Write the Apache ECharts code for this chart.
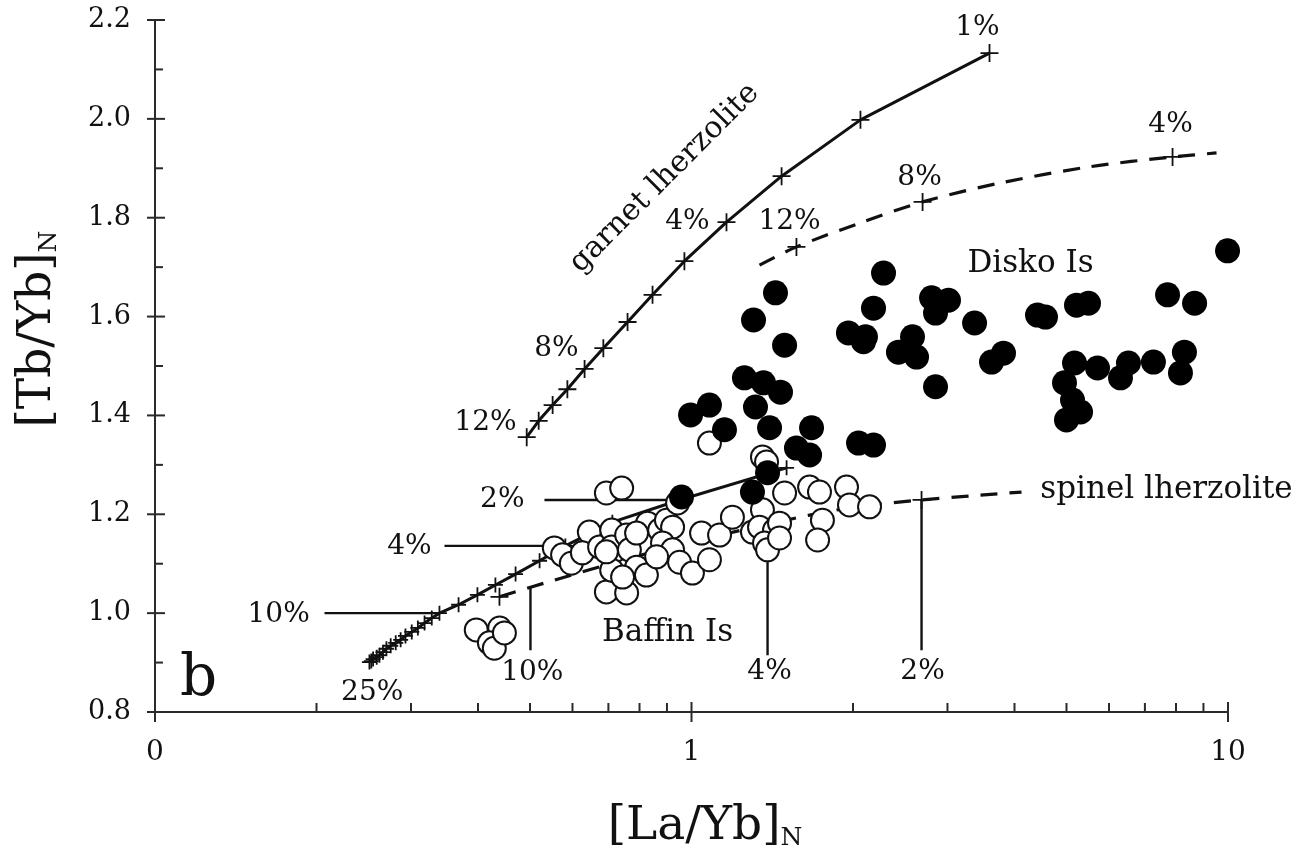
<!DOCTYPE html>
<html>
<head>
<meta charset="utf-8">
<script src="https://cdn.jsdelivr.net/npm/echarts/dist/echarts.min.js"></script>
<style>
  html, body { margin: 0; padding: 0; background: #fff; }
  #main { width: 1297px; height: 857px; }
</style>
</head>
<body>
<div id="main"></div>
<script>
// ---------------- data ----------------
const xMajorTicks = [0.1, 1, 10];
const xMinorTicks = [0.2, 0.3, 0.4, 0.5, 0.6, 0.7, 0.8, 0.9, 2, 3, 4, 5, 6, 7, 8, 9];
const yMajorTicks = [0.8, 1.0, 1.2, 1.4, 1.6, 1.8, 2.0, 2.2];
const yMinorTicks = [0.9, 1.1, 1.3, 1.5, 1.7, 1.9, 2.1];

// garnet lherzolite melting curve, 1% steps
const garnetCurve = [
  [3.593, 2.133], [2.065, 1.998], [1.472, 1.884], [1.162, 1.791], [0.970, 1.712],
  [0.846, 1.644], [0.760, 1.589], [0.685, 1.536], [0.632, 1.494], [0.587, 1.453],
  [0.551, 1.421], [0.519, 1.389], [0.493, 1.356]
];

// lower melting curve, 1% .. 25%
const lowerCurve = [
  [1.504, 1.294], [0.950, 1.229], [0.712, 1.184], [0.582, 1.136], [0.521, 1.106],
  [0.470, 1.079], [0.431, 1.057], [0.399, 1.037], [0.368, 1.017], [0.339, 1.000],
  [0.328, 0.990], [0.318, 0.980], [0.309, 0.970], [0.301, 0.962], [0.293, 0.954],
  [0.287, 0.946], [0.281, 0.940], [0.275, 0.934], [0.270, 0.928], [0.266, 0.921],
  [0.262, 0.915], [0.259, 0.911], [0.255, 0.907], [0.253, 0.903], [0.251, 0.901]
];

// upper dashed curve and its marked steps (12%, 8%, 4%)
const upperDash = [
  [1.339, 1.704], [1.569, 1.741], [2.057, 1.789], [2.696, 1.832],
  [3.751, 1.870], [5.520, 1.903], [7.882, 1.923], [9.52, 1.931]
];
const upperDashMarks = [[1.569, 1.741], [2.696, 1.832], [7.882, 1.923]];

// spinel lherzolite dashed curve and marked steps
const spinelDash = [
  [0.4386, 1.033], [0.503, 1.053], [0.835, 1.122], [1.386, 1.180],
  [1.970, 1.213], [2.684, 1.229], [4.122, 1.245]
];
const spinelDashMarks = [[0.4386, 1.033], [2.684, 1.229]];

// label leader lines
const leaders = [
  [[0.532, 1.229], [0.950, 1.229]],
  [[0.3464, 1.136], [0.582, 1.136]],
  [[0.207, 1.000], [0.339, 1.000]],
  [[0.501, 1.053], [0.501, 0.925]],
  [[1.386, 1.180], [1.386, 0.915]],
  [[2.684, 1.229], [2.684, 0.925]]
];

// Baffin Island samples
const baffin = [
  [1.080, 1.344], [1.356, 1.316], [1.380, 1.306], [0.694, 1.243], [0.741, 1.253],
  [0.555, 1.132], [0.575, 1.118], [0.597, 1.101], [0.645, 1.164], [0.626, 1.122],
  [0.674, 1.134], [0.710, 1.168], [0.710, 1.134], [0.728, 1.108], [0.757, 1.158],
  [0.757, 1.087], [0.766, 1.128], [0.790, 1.093], [0.824, 1.077], [0.694, 1.043],
  [0.757, 1.041], [0.828, 1.182], [0.872, 1.168], [0.898, 1.188], [0.922, 1.174],
  [0.883, 1.142], [0.922, 1.128], [0.950, 1.103], [1.004, 1.081], [1.080, 1.108],
  [1.044, 1.162], [1.128, 1.158], [1.192, 1.194], [1.299, 1.164], [1.356, 1.209],
  [1.339, 1.174], [1.428, 1.168], [1.368, 1.142], [1.386, 1.128], [1.459, 1.182],
  [1.491, 1.243], [1.660, 1.255], [1.732, 1.245], [1.945, 1.255], [1.970, 1.219],
  [2.147, 1.215], [1.754, 1.188], [1.718, 1.148], [0.397, 0.966], [0.439, 0.970],
  [0.420, 0.940], [0.429, 0.929], [0.448, 0.960], [0.710, 1.087], [0.744, 1.073],
  [0.861, 1.114], [0.790, 1.162], [0.694, 1.124], [1.459, 1.152], [0.942, 1.223]
];

// Disko Island samples
const disko = [
  [2.280, 1.688], [1.434, 1.648], [1.305, 1.593], [1.491, 1.542], [1.255, 1.476],
  [1.362, 1.466], [1.465, 1.447], [1.316, 1.417], [1.080, 1.421], [0.996, 1.401],
  [1.152, 1.371], [1.398, 1.375], [1.674, 1.375], [1.569, 1.334], [1.660, 1.320],
  [2.048, 1.344], [2.184, 1.340], [2.850, 1.458], [2.184, 1.617], [1.961, 1.567],
  [2.110, 1.559], [2.092, 1.549], [2.431, 1.528], [2.582, 1.559], [2.627, 1.518],
  [2.802, 1.638], [3.013, 1.633], [2.850, 1.607], [3.370, 1.587], [4.415, 1.603],
  [4.569, 1.599], [3.624, 1.508], [3.815, 1.526], [5.220, 1.623], [5.495, 1.627],
  [7.715, 1.644], [8.664, 1.627], [9.98, 1.733], [5.175, 1.506], [5.712, 1.496],
  [4.957, 1.466], [5.131, 1.431], [5.311, 1.407], [5.000, 1.391], [6.523, 1.506],
  [6.304, 1.476], [7.261, 1.508], [8.294, 1.528], [8.154, 1.486], [1.386, 1.284],
  [1.299, 1.245], [0.958, 1.235]
];

// annotation texts: [x, y, text]
const pctLabels = [
  [3.412, 2.184, '1%'], [0.983, 1.791, '4%'], [0.560, 1.534, '8%'], [0.413, 1.385, '12%'],
  [1.523, 1.791, '12%'], [2.661, 1.880, '8%'], [7.814, 1.988, '4%'],
  [0.444, 1.229, '2%'], [0.298, 1.134, '4%'], [0.170, 0.996, '10%'], [0.254, 0.838, '25%'],
  [0.505, 0.879, '10%'], [1.398, 0.881, '4%'], [2.696, 0.881, '2%']
];
const placeLabels = [
  [4.284, 1.706, 'Disko Is'], [0.902, 0.960, 'Baffin Is'], [7.68, 1.249, 'spinel lherzolite']
];
const curveName = [0.891, 1.880, 'garnet lherzolite'];
const panelLetter = [0.1206, 0.865, 'b'];

// ---------------- drawing ----------------
const FONT = "'DejaVu Serif', 'Liberation Serif', serif";
const INK = '#111111';
const AXIS = '#2a2a2a';
const CROSS = 'path://M5,0L5,10M0,5L10,5';

function tickSeries(items, isX) {
  return {
    type: 'custom', coordinateSystem: 'cartesian2d', clip: false, silent: true, z: 10,
    data: items,
    renderItem(params, api) {
      const v = api.value(isX ? 0 : 1);
      const major = api.value(2) === 1;
      const p = api.coord(isX ? [v, 0.8] : [0.1, v]);
      const shape = isX
        ? { x1: p[0], y1: p[1] - (major ? 10 : 9), x2: p[0], y2: p[1] + (major ? 10 : 0) }
        : { x1: p[0] - (major ? 8 : 0), y1: p[1], x2: p[0] + (major ? 10 : 8), y2: p[1] };
      return { type: 'line', shape, style: { stroke: AXIS, lineWidth: 2 } };
    }
  };
}

function textPoints(rows, fontSize, extra) {
  return {
    type: 'scatter', silent: true, z: 8, symbolSize: 1,
    itemStyle: { color: 'rgba(0,0,0,0)', opacity: 1 },
    data: rows.map(r => ({ value: [r[0], r[1]], name: r[2] })),
    label: Object.assign({
      show: true, position: 'inside', formatter: '{b}',
      fontFamily: FONT, fontSize: fontSize, color: INK
    }, extra || {})
  };
}

const crossStyle = { color: INK, borderColor: INK, borderWidth: 1.8, opacity: 1 };

const series = [
  tickSeries(xMajorTicks.map(v => [v, 0.8, 1]).concat(xMinorTicks.map(v => [v, 0.8, 0])), true),
  tickSeries(yMajorTicks.map(v => [0.1, v, 1]).concat(yMinorTicks.map(v => [0.1, v, 0])), false),
  {
    type: 'line', data: garnetCurve, z: 2, silent: true,
    lineStyle: { color: INK, width: 3 },
    symbol: CROSS, symbolSize: 18, showAllSymbol: true, itemStyle: crossStyle
  },
  {
    type: 'line', data: lowerCurve, z: 2, silent: true,
    lineStyle: { color: INK, width: 3 },
    symbol: CROSS, symbolSize: 15, showAllSymbol: true, itemStyle: crossStyle
  },
  {
    type: 'line', data: upperDash, z: 2, silent: true, smooth: 0.3,
    lineStyle: { color: INK, width: 3.2, type: [17, 12] }, symbol: 'none'
  },
  {
    type: 'scatter', data: upperDashMarks, z: 2, silent: true,
    symbol: CROSS, symbolSize: 18, itemStyle: crossStyle
  },
  {
    type: 'line', data: spinelDash, z: 2, silent: true, smooth: 0.3,
    lineStyle: { color: INK, width: 3.2, type: [17, 12] }, symbol: 'none'
  },
  {
    type: 'scatter', data: spinelDashMarks, z: 2, silent: true,
    symbol: CROSS, symbolSize: 18, itemStyle: crossStyle
  }
];

leaders.forEach(seg => series.push({
  type: 'line', data: seg, z: 2, silent: true, symbol: 'none',
  lineStyle: { color: INK, width: 2.4 }
}));

series.push({
  type: 'scatter', name: 'Baffin Is', data: baffin, z: 3, silent: true,
  symbol: 'circle', symbolSize: 23,
  itemStyle: { color: '#ffffff', borderColor: INK, borderWidth: 2, opacity: 1 }
});
series.push({
  type: 'scatter', name: 'Disko Is', data: disko, z: 4, silent: true,
  symbol: 'circle', symbolSize: 25,
  itemStyle: { color: '#000000', opacity: 1 }
});

series.push(textPoints(pctLabels, 28));
series.push(textPoints(placeLabels, 31));
series.push(textPoints([curveName], 30, { rotate: 45 }));
series.push(textPoints([panelLetter], 58));

const chart = echarts.init(document.getElementById('main'), null, { renderer: 'canvas' });
chart.setOption({
  animation: false,
  backgroundColor: '#ffffff',
  grid: { left: 155, right: 69, top: 20, bottom: 145, containLabel: false },
  xAxis: {
    type: 'log', logBase: 10, min: 0.1, max: 10,
    axisLine: { lineStyle: { color: AXIS, width: 2 } },
    axisTick: { show: false },
    splitLine: { show: false },
    axisLabel: {
      margin: 27, fontFamily: FONT, fontSize: 28, color: INK,
      formatter: v => (Math.abs(v - 0.1) < 1e-9 ? '0' : String(Math.round(v)))
    }
  },
  yAxis: {
    type: 'value', min: 0.8, max: 2.2, interval: 0.2,
    axisLine: { lineStyle: { color: AXIS, width: 2 } },
    axisTick: { show: false },
    splitLine: { show: false },
    axisLabel: {
      margin: 24, fontFamily: FONT, fontSize: 27, color: INK,
      formatter: v => v.toFixed(1)
    }
  },
  graphic: [
    {
      type: 'text', x: 705, y: 827, silent: true,
      style: {
        text: '{a|[La/Yb]}{b|N}', align: 'center', verticalAlign: 'middle',
        rich: {
          a: { fontFamily: FONT, fontSize: 47, fill: INK },
          b: { fontFamily: FONT, fontSize: 25, fill: INK, verticalAlign: 'bottom' }
        }
      }
    },
    {
      type: 'text', x: 38, y: 329, rotation: Math.PI / 2, silent: true,
      style: {
        text: '{a|[Tb/Yb]}{b|N}', align: 'center', verticalAlign: 'middle',
        rich: {
          a: { fontFamily: FONT, fontSize: 47, fill: INK },
          b: { fontFamily: FONT, fontSize: 25, fill: INK, verticalAlign: 'bottom' }
        }
      }
    }
  ],
  series
});
</script>
</body>
</html>
